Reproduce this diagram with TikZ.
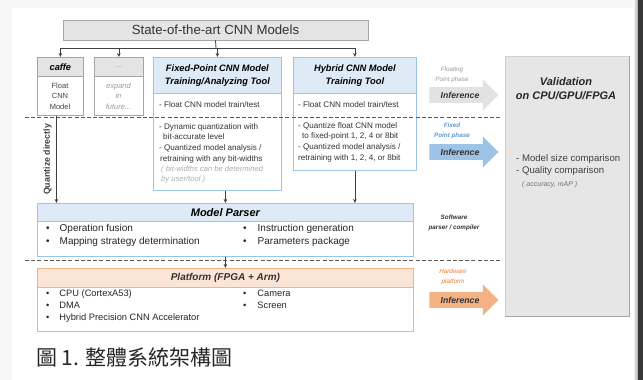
\documentclass[tikz,border=0pt]{standalone}
\usepackage{fontspec}
\setmainfont{Liberation Sans}
\newfontfamily\cjk{Noto Sans CJK TC}
\usepackage{tikz}
\usetikzlibrary{arrows.meta,shapes.arrows}

\definecolor{framegrey}{HTML}{A6A6A6}
\definecolor{headgrey}{HTML}{E4E4E4}
\definecolor{lineblue}{HTML}{9DC3E6}
\definecolor{headblue}{HTML}{DEEBF7}
\definecolor{lineorange}{HTML}{F4B183}
\definecolor{headorange}{HTML}{FBE5D6}
\definecolor{textorange}{HTML}{ED7D31}
\definecolor{textblue}{HTML}{5B9BD5}
\definecolor{textgrey}{HTML}{9A9A9A}
\definecolor{valgrey}{HTML}{E6E6E6}
\definecolor{arrowgrey}{HTML}{E2E2E2}
\definecolor{linkgrey}{HTML}{404040}

\begin{document}
\begin{tikzpicture}[x=1pt,y=-1pt]
\tikzstyle{box}=[draw,line width=0.8pt,anchor=north west,inner sep=0]
\tikzstyle{greybox}=[box,draw=framegrey]
\tikzstyle{bluebox}=[box,draw=lineblue]
\tikzstyle{orangebox}=[box,draw=lineorange]
\tikzstyle{headtext}=[align=center,font=\bfseries\itshape\fontsize{9.3}{12.8}\selectfont]
\tikzstyle{bodytext}=[anchor=west,inner sep=0,align=left,font=\fontsize{8.1}{10.7}\selectfont,text=black!80]
\tikzstyle{bullettext}=[anchor=north west,inner sep=0,align=left,text=black!85]
\tikzstyle{phasetext}=[align=center,inner sep=0,font=\itshape\fontsize{6.3}{9.3}\selectfont]
\tikzstyle{inferarrow}=[single arrow,single arrow head extend=7pt,minimum height=69pt,
  minimum width=31pt,inner xsep=3pt,inner ysep=4pt,text=black!80,
  font=\bfseries\itshape\fontsize{8.7}{10}\selectfont]
\tikzstyle{linkline}=[draw=linkgrey,line width=0.8pt]
\tikzstyle{linkarrow}=[linkline,-{Stealth[length=4pt,width=3.5pt]}]
\tikzstyle{phaseline}=[draw=black!65,line width=1pt,dash pattern=on 4pt off 2.2pt]

% page and its shadow
\useasboundingbox (0,0) rectangle (643,380);
\fill[black!3] (0,0) rectangle (643,380);
\fill[white] (12,8) rectangle (633,380);
\shade[left color=white,right color=black!35] (633,0) rectangle (638,380);
\fill[black!78] (638,0) rectangle (643,380);

% model sources
\node[greybox,fill=headgrey,minimum width=305pt,minimum height=20pt,anchor=center,
  font=\fontsize{13.2}{15}\selectfont,text=black!80] (models) at (215.5,30) {State-of-the-art CNN Models};
\coordinate (split) at (216,48);

\node[greybox,minimum width=46pt,minimum height=58pt] (caffe) at (37,57) {};
\node[greybox,fill=headgrey,minimum width=46pt,minimum height=19pt,headtext] (caffehead) at (37,57) {caffe};
\node[align=center,inner sep=0,font=\fontsize{7.5}{10.5}\selectfont,text=black!75] (caffebody) at (60,96) {Float\\CNN\\Model};

\node[greybox,minimum width=49pt,minimum height=58pt] (more) at (94,57) {};
\node[greybox,fill=headgrey,minimum width=49pt,minimum height=19pt,font=\fontsize{8}{10}\selectfont,text=textgrey] (morehead) at (94,57) {...};
\node[align=center,inner sep=0,font=\itshape\fontsize{7.5}{10.5}\selectfont,text=textgrey] (morebody) at (118.5,96) {expand\\in\\future...};

\node[bluebox,minimum width=128pt,minimum height=133pt] (fixed) at (153,57) {};
\node[bluebox,fill=headblue,minimum width=128pt,minimum height=36pt,headtext] (fixedhead) at (153,57) {Fixed-Point CNN Model\\Training/Analyzing Tool};
\node[bodytext] (fixedtrain) at (159,105) {- Float CNN model train/test};
\node[bodytext,anchor=north west] (fixedquant) at (159,123) {- Dynamic quantization with\\\hspace*{4pt}bit-accurate level\\- Quantized model analysis /\\\hspace*{1pt}retraining with any bit-widths};
\node[bodytext,anchor=north west,font=\itshape\fontsize{7.6}{10}\selectfont,text=textgrey!80] (fixednote) at (161,166) {( bit-widths can be determined\\by user/tool )};

\node[bluebox,minimum width=123pt,minimum height=113pt] (hybrid) at (293,57) {};
\node[bluebox,fill=headblue,minimum width=123pt,minimum height=36pt,headtext] (hybridhead) at (293,57) {Hybrid CNN Model\\Training Tool};
\node[bodytext] (hybridtrain) at (298,105) {- Float CNN model train/test};
\node[bodytext,anchor=north west] (hybridquant) at (298,122) {- Quantize float CNN model\\\hspace*{4pt}to fixed-point 1, 2, 4 or 8bit\\- Quantized model analysis /\\retraining with 1, 2, 4, or 8bit};

\draw[linkline] (models.south) -- (split);
\draw[linkline] (caffe.north |- split) -- (hybrid.north |- split);
\foreach \src in {caffe,more,fixed,hybrid}
  \draw[linkarrow] (\src.north |- split) -- (\src.north);

% phase separators
\draw[phaseline] (25,117) -- (500,117);
\draw[phaseline] (25,260) -- (500,260);

% model parser
\node[bluebox,minimum width=376pt,minimum height=53pt] (parser) at (37,203) {};
\node[bluebox,fill=headblue,minimum width=376pt,minimum height=18pt,
  font=\bfseries\itshape\fontsize{11}{12}\selectfont] (parserhead) at (37,203) {Model Parser};
\node[bullettext,font=\fontsize{10}{13}\selectfont] (parserleft) at (46,224) {\textbullet\hspace{10pt}Operation fusion\\\textbullet\hspace{10pt}Mapping strategy determination};
\node[bullettext,font=\fontsize{10}{13}\selectfont] (parserright) at (243,224) {\textbullet\hspace{11pt}Instruction generation\\\textbullet\hspace{11pt}Parameters package};

% platform
\node[orangebox,minimum width=376pt,minimum height=63pt] (platform) at (37,268) {};
\node[orangebox,fill=headorange,minimum width=376pt,minimum height=19pt,
  font=\bfseries\itshape\fontsize{10}{12}\selectfont,text=black!80] (platformhead) at (37,268) {Platform (FPGA + Arm)};
\node[bullettext,font=\fontsize{9.3}{12}\selectfont] (platformleft) at (46,290) {\textbullet\hspace{10pt}CPU (CortexA53)\\\textbullet\hspace{10pt}DMA\\\textbullet\hspace{10pt}Hybrid Precision CNN Accelerator};
\node[bullettext,font=\fontsize{9.3}{12}\selectfont] (platformright) at (243,290) {\textbullet\hspace{11pt}Camera\\\textbullet\hspace{11pt}Screen};

% flows into parser and platform
\draw[linkarrow] ([xshift=-4pt]caffe.south) -- ([xshift=-4pt]caffe.south |- parser.north)
  node[midway,left=1pt,rotate=90,anchor=south,font=\bfseries\fontsize{8.8}{10}\selectfont,text=black!75] {Quantize directly};
\draw[linkarrow] (fixed.south -| parser.north) -- (parser.north);
\draw[linkarrow] (hybrid.south) -- (hybrid.south |- parser.north);
\draw[linkarrow] (parser.south) -- (platform.north);

% validation
\node[box,draw=black!18,fill=valgrey,minimum width=124pt,minimum height=260pt] (valid) at (505,56) {};
\draw[black!35,line width=1.2pt] (valid.north east) -- (valid.south east) -- (valid.south west);
\node[align=center,inner sep=0,font=\bfseries\itshape\fontsize{11}{14}\selectfont,text=black!85] (validtitle) at (566,89) {Validation\\on CPU/GPU/FPGA};
\node[bullettext,font=\fontsize{9.6}{12}\selectfont,text=black!75] (validbody) at (516,154) {- Model size comparison\\- Quality comparison};
\node[bodytext,font=\itshape\fontsize{7}{8}\selectfont,text=black!55] (validnote) at (522,185) {( accuracy, mAP )};

% inference phases
\node[inferarrow,fill=arrowgrey] (floatinf) at (460,95) {Inference};
\node[phasetext,text=textgrey] (floatlabel) at (452,75) {Floating\\Point phase};
\node[inferarrow,fill=lineblue] (fixedinf) at (460,152) {Inference};
\node[phasetext,text=textblue,font=\bfseries\itshape\fontsize{6.3}{9.3}\selectfont] (fixedlabel) at (452,131) {Fixed\\Point phase};
\node[phasetext,text=black!80,font=\bfseries\itshape\fontsize{6.3}{9.3}\selectfont] (softlabel) at (454,223) {Software\\parser / compiler};
\node[inferarrow,fill=lineorange] (hardinf) at (460,300) {Inference};
\node[phasetext,text=textorange] (hardlabel) at (453,277) {Hardware\\platform};

\node[anchor=west,inner sep=0,font=\cjk\fontsize{21}{22}\selectfont,text=black!85] (caption) at (36,358) {圖 1. 整體系統架構圖};
\end{tikzpicture}
\end{document}
